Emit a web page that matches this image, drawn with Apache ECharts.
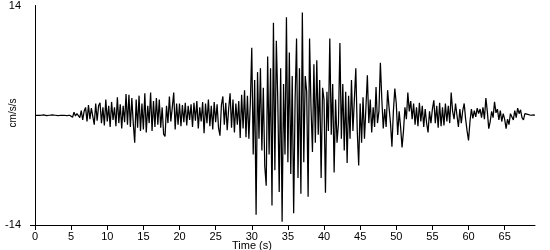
<!DOCTYPE html>
<html>
<head>
<meta charset="utf-8">
<script src="https://cdn.jsdelivr.net/npm/echarts@6/dist/echarts.min.js"></script>
<style>
html,body{margin:0;padding:0;background:#fff;}
#c{width:550px;height:250px;}
</style>
</head>
<body>
<div id="c"></div>
<script>
// Sampling of the acceleration record (seconds between samples)
const timeStep = 0.2;
// Acceleration values (cm/s/s), one per sample starting at t = 0
const accel = [
  0,0,0,0,0, 0,0.05,0,-0.05,0, 0,0,0.05,0,0, 0,-0.05,0,0,0.05, 0,0,-0.05,-0.1,0,
  0.1,-0.25,0.4,-0.1,0.2,
  0.4,-0.3,0.6,-0.6,0.5,
  1.0,-0.8,1.3,-0.5,0.9,
  0.8,-1.2,1.5,-0.7,1.2,
  1.6,-1.0,1.0,-1.3,2.0,
  -0.8,1.2,-1.5,1.7,-0.6,
  1.0,-1.4,2.3,-1.0,1.4,
  -1.7,1.2,-0.9,2.7,-1.2,
  2.6,-1.5,2.2,-1.0,-3.5,
  2.0,-1.6,2.5,-2.0,1.5,
  -1.8,2.8,-2.2,1.2,-1.0,
  2.9,-2.0,1.8,-1.5,2.2,
  -1.2,2.0,-1.6,1.0,-2.4,
  -2.7,1.2,-1.0,2.4,-0.8,
  1.0,2.9,-1.8,1.5,-1.2,
  1.5,-1.4,1.3,-0.9,1.6,
  -1.3,1.2,-0.6,1.4,-1.5,
  1.6,-0.7,1.8,-1.7,1.0,
  -0.8,1.7,-2.3,1.5,-1.0,
  2.0,-1.4,1.2,-1.8,1.7,
  -0.9,1.4,-1.6,-2.6,1.3,
  2.4,-1.2,1.6,-1.9,0.8,
  2.8,-1.6,2.0,-2.2,1.5,
  -1.2,1.8,-2.9,2.6,-1.7,
  3.2,-2.8,2.5,-3.0,1.5,
  8.6,-5.0,4.5,-12.7,5.5,
  -3.0,6.0,-4.5,3.5,-6.5,
  -9.0,7.5,-5.0,6.0,-11.5,
  11.8,-7.0,9.5,2.0,-9.8,
  6.0,-13.6,4.0,-5.0,12.5,
  -6.0,8.0,-7.5,5.0,-12.5,
  2.0,9.8,-8.0,6.0,-10.0,
  13.1,-6.0,5.0,3.0,-10.4,
  9.8,1.0,-4.7,6.5,-3.5,
  7.0,-2.5,4.5,-8.0,3.5,
  2.0,-9.9,3.0,-2.0,9.8,
  -2.5,4.0,-7.3,2.0,-3.5,
  -1.0,9.2,-3.0,4.0,-4.5,
  3.0,-6.1,2.5,-3.0,4.5,
  -2.0,2.0,6.0,-2.0,-6.4,
  1.5,-3.5,2.3,-3.0,1.0,
  5.1,-1.0,2.0,-2.2,1.0,
  -1.5,3.6,-1.0,0.5,6.7,
  2.0,-1.7,0.8,-1.5,3.2,
  1.0,-1.0,-4.0,0.5,3.4,
  1.5,-2.5,0.5,-1.5,-4.1,
  -2.0,1.0,-0.5,2.9,0.5,
  1.8,-0.5,1.5,-1.2,1.0,
  -1.4,1.6,-0.8,1.2,-1.5,
  0.8,-1.0,-2.2,0.5,-1.0,
  0.8,1.9,-1.0,1.2,-1.6,
  1.6,-1.4,1.0,-1.3,1.5,
  -0.8,1.2,-1.0,2.9,0.5,
  -0.5,1.5,0.0,-1.5,0.8,
  -1.0,0.6,1.5,-0.5,-2.0,
  -3.2,-0.8,0.8,-0.4,0.6,
  -0.2,0.9,0.2,0.8,-0.3,
  1.0,-0.5,2.2,0.5,-1.7,
  -0.8,0.5,-0.3,1.7,0.3,
  0.8,-0.6,0.6,-0.8,0.2,
  -0.5,-1.7,-0.5,-1.2,0.2,
  0.3,-0.6,0.6,-0.3,0.9,
  0.2,0.7,-0.3,-0.6,0.2,
  0.3,0.1,0.2,0.0,0.1,
  0.05,0
];
// Axis tick labels
const xTickValues = [0,5,10,15,20,25,30,35,40,45,50,55,60,65];
const yTickLabelValues = [-14, 14];
const yTickValues = [-14];
const xTitle = 'Time (s)';
const yTitle = 'cm/s/s';

const seriesData = accel.map((v, i) => [+(i * timeStep).toFixed(2), v]);
const font = 'Liberation Sans, Arial, sans-serif';

const chart = echarts.init(document.getElementById('c'), null, {renderer: 'canvas'});
chart.setOption({
  animation: false,
  backgroundColor: '#fff',
  grid: {left: 35, right: 15, top: 5, bottom: 25, containLabel: false},
  xAxis: {
    type: 'value', min: 0, max: 69.2, interval: 5,
    axisLine: {show: true, onZero: false, lineStyle: {color: '#000', width: 1}},
    axisTick: {show: true, length: 5, inside: false, customValues: xTickValues, lineStyle: {color: '#000'}},
    axisLabel: {customValues: xTickValues, color: '#000', fontFamily: font, fontSize: 11, margin: 6},
    splitLine: {show: false}
  },
  yAxis: {
    type: 'value', min: -14, max: 14, interval: 28,
    axisLine: {show: true, onZero: false, lineStyle: {color: '#000', width: 1}},
    axisTick: {show: true, length: 5, inside: false, customValues: yTickValues, lineStyle: {color: '#000'}},
    axisLabel: {customValues: yTickLabelValues, color: '#000', fontFamily: font, fontSize: 11, margin: 14},
    splitLine: {show: false}
  },
  graphic: [
    {type: 'text', left: 232, top: 240, style: {text: xTitle, fill: '#000', font: '11px ' + font}},
    {type: 'text', x: 13, y: 113, rotation: Math.PI / 2,
     style: {text: yTitle, fill: '#000', font: '10px ' + font, align: 'center', verticalAlign: 'middle'}}
  ],
  series: [{
    type: 'line', data: seriesData, showSymbol: false, symbol: 'none',
    lineStyle: {color: '#000', width: 1.25}, silent: true
  }]
});
</script>
</body>
</html>
